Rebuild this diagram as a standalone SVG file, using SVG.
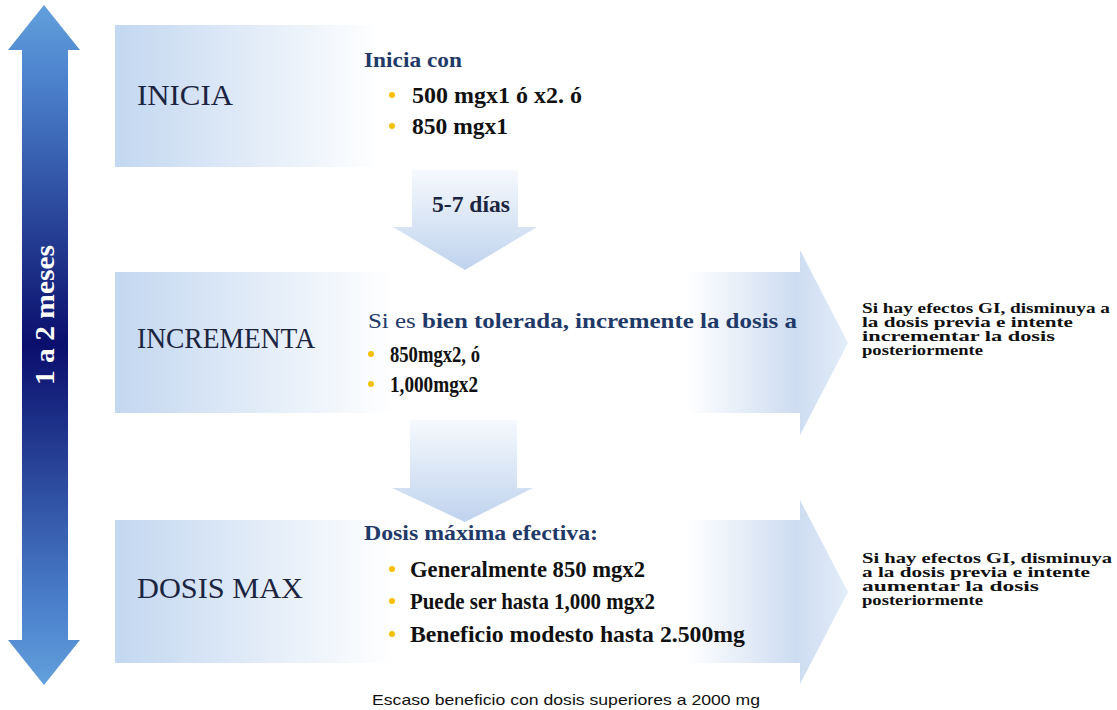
<svg xmlns="http://www.w3.org/2000/svg" width="1117" height="710" viewBox="0 0 1117 710">
<defs>
<linearGradient id="gLeft" x1="0" y1="0" x2="0" y2="1">
<stop offset="0" stop-color="#62a0dc"/>
<stop offset="0.12" stop-color="#4a7fcb"/>
<stop offset="0.5" stop-color="#0a0e6c"/>
<stop offset="0.88" stop-color="#4a7fcb"/>
<stop offset="1" stop-color="#62a0dc"/>
</linearGradient>
<linearGradient id="gBox" x1="0" y1="0" x2="1" y2="0">
<stop offset="0" stop-color="#c3d7f0"/>
<stop offset="0.9" stop-color="#ffffff"/>
<stop offset="1" stop-color="#ffffff"/>
</linearGradient>
<linearGradient id="gArrowBox" gradientUnits="userSpaceOnUse" x1="115" y1="0" x2="848" y2="0">
<stop offset="0" stop-color="#c3d7f0"/>
<stop offset="0.38" stop-color="#ffffff"/>
<stop offset="0.78" stop-color="#ffffff"/>
<stop offset="0.93" stop-color="#cddcf1"/>
<stop offset="1" stop-color="#e4edf9"/>
</linearGradient>
<linearGradient id="gDown" x1="0" y1="0" x2="0" y2="1">
<stop offset="0" stop-color="#f6f9fd"/>
<stop offset="1" stop-color="#bfd3ee"/>
</linearGradient>
<style>
.lbl{font-family:"Liberation Serif","Times New Roman",serif;font-size:30px;fill:#1b2440}
.hd{font-family:"Liberation Serif","Times New Roman",serif;font-size:22px;font-weight:bold;fill:#1f3a68}
.bt{font-family:"Liberation Serif","Times New Roman",serif;font-size:23px;font-weight:bold;fill:#111}
.side{font-family:"Liberation Serif","Times New Roman",serif;font-size:15px;font-weight:bold;fill:#111}
.dot{fill:#f5c000}
.foot{font-family:"Liberation Sans",Arial,sans-serif;font-size:15px;fill:#111}
</style>
</defs>
<rect width="1117" height="710" fill="#ffffff"/>

<g id="timeline">
<path d="M44,5 L80,50 H68 V640 H80 L44,685 L8,640 H22 V50 H8 Z" fill="url(#gLeft)"/>
<text transform="translate(54,385) rotate(-90)" font-family="Liberation Serif, Times New Roman, serif" font-size="28" font-weight="bold" fill="#ffffff" textLength="140" lengthAdjust="spacingAndGlyphs">1 a 2 meses</text>
</g>

<g id="inicia">
<rect x="115" y="25" width="295" height="142" fill="url(#gBox)"/>
<text class="lbl" x="137" y="105" textLength="96" lengthAdjust="spacingAndGlyphs">INICIA</text>
<text class="hd" x="364" y="67" textLength="98" lengthAdjust="spacingAndGlyphs">Inicia con</text>
<circle class="dot" cx="392" cy="95" r="3"/>
<text class="bt" x="412" y="103" textLength="170" lengthAdjust="spacingAndGlyphs">500 mgx1 ó x2. ó</text>
<circle class="dot" cx="392" cy="126" r="3"/>
<text class="bt" x="412" y="134" textLength="96" lengthAdjust="spacingAndGlyphs">850 mgx1</text>
</g>

<g id="incrementa">
<path d="M115,272 H800 V250 L848,343 L800,435 V413 H115 Z" fill="url(#gArrowBox)"/>
<text class="lbl" x="137" y="348" textLength="178" lengthAdjust="spacingAndGlyphs">INCREMENTA</text>
<text class="hd" x="368" y="328" textLength="429" lengthAdjust="spacingAndGlyphs"><tspan font-weight="normal">Si es </tspan>bien tolerada, incremente la dosis a</text>
<circle class="dot" cx="371" cy="354" r="3"/>
<text class="bt" x="390" y="362" textLength="90" lengthAdjust="spacingAndGlyphs">850mgx2, ó</text>
<circle class="dot" cx="371" cy="384" r="3"/>
<text class="bt" x="390" y="392" textLength="88" lengthAdjust="spacingAndGlyphs">1,000mgx2</text>
</g>

<g id="nota1">
<text class="side" x="862" y="313" textLength="248" lengthAdjust="spacingAndGlyphs">Si hay efectos GI, disminuya a</text>
<text class="side" x="862" y="327" textLength="211" lengthAdjust="spacingAndGlyphs">la dosis previa e intente</text>
<text class="side" x="862" y="341" textLength="193" lengthAdjust="spacingAndGlyphs">incrementar la dosis</text>
<text class="side" x="862" y="355" textLength="121" lengthAdjust="spacingAndGlyphs">posteriormente</text>
</g>

<g id="dosismax">
<path d="M115,520 H800 V500 L848,592 L800,684 V663 H115 Z" fill="url(#gArrowBox)"/>
<text class="lbl" x="137" y="598" textLength="166" lengthAdjust="spacingAndGlyphs">DOSIS MAX</text>
<text class="hd" x="364" y="540" textLength="234" lengthAdjust="spacingAndGlyphs">Dosis máxima efectiva:</text>
<circle class="dot" cx="392" cy="569" r="3"/>
<text class="bt" x="410" y="577" textLength="235" lengthAdjust="spacingAndGlyphs">Generalmente 850 mgx2</text>
<circle class="dot" cx="392" cy="601" r="3"/>
<text class="bt" x="410" y="609" textLength="245" lengthAdjust="spacingAndGlyphs">Puede ser hasta 1,000 mgx2</text>
<circle class="dot" cx="392" cy="634" r="3"/>
<text class="bt" x="410" y="642" textLength="335" lengthAdjust="spacingAndGlyphs">Beneficio modesto hasta 2.500mg</text>
</g>

<g id="nota2">
<text class="side" x="862" y="563" textLength="250" lengthAdjust="spacingAndGlyphs">Si hay efectos GI, disminuya</text>
<text class="side" x="862" y="577" textLength="228" lengthAdjust="spacingAndGlyphs">a la dosis previa e intente</text>
<text class="side" x="862" y="591" textLength="177" lengthAdjust="spacingAndGlyphs">aumentar la dosis</text>
<text class="side" x="862" y="605" textLength="121" lengthAdjust="spacingAndGlyphs">posteriormente</text>
</g>

<g id="connectors">
<path d="M412,170 H518 V227 H537 L465,270 L393,227 H412 Z" fill="url(#gDown)"/>
<path d="M410,420 H517 V488 H533 L465,522 L392,488 H410 Z" fill="url(#gDown)"/>
<text class="hd" x="432" y="212" style="fill:#1b2440;font-size:23px" textLength="78" lengthAdjust="spacingAndGlyphs">5-7 días</text>
</g>

<g id="pie">
<text class="foot" x="372" y="705" textLength="388" lengthAdjust="spacingAndGlyphs">Escaso beneficio con dosis superiores a 2000 mg</text>
</g>
</svg>
